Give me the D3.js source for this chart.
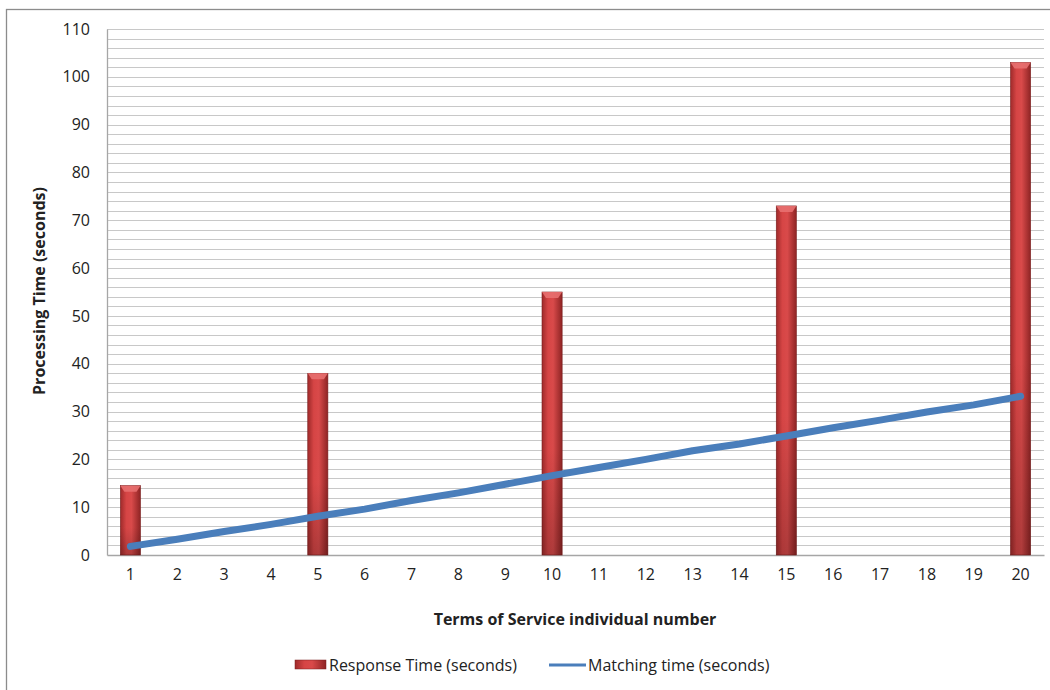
<!DOCTYPE html>
<html lang="en">
<head>
  <meta charset="UTF-8">
  <title>Processing Time</title>
  <style>
    body { margin: 0; background: #fff; }
    svg text { font-family: 'Open Sans', 'Noto Sans', Arial, sans-serif; fill: #222; }
  </style>
</head>
<body>
  <div id="my_dataviz"></div>
<script src="https://d3js.org/d3.v7.min.js"></script>
<script>
  // data
  var categories = d3.range(1, 21).map(String);
  var responseTime = [14.5, 0, 0, 0, 38, 0, 0, 0, 0, 55, 0, 0, 0, 0, 73, 0, 0, 0, 0, 103];
  var matchingTime = [1.8, 3.3, 4.9, 6.4, 8.1, 9.6, 11.4, 13.0, 14.8, 16.6, 18.3, 20.0, 21.8, 23.2, 24.9, 26.6, 28.2, 29.9, 31.4, 33.2];
  var yTicks = d3.range(0, 111, 10);
  var seriesNames = ["Response Time (seconds)", "Matching time (seconds)"];

  var W = 1050, H = 690;
  var margin = {top: 29, right: 6, bottom: 135, left: 107},
      width = W - margin.left - margin.right,
      height = H - margin.top - margin.bottom;

  var root = d3.select("#my_dataviz").append("svg")
    .attr("width", W).attr("height", H);

  // outer chart frame
  root.append("rect")
    .attr("x", 6.5).attr("y", 9.5)
    .attr("width", W + 10).attr("height", H + 10)
    .attr("fill", "none").attr("stroke", "#8c8c8c").attr("stroke-width", 1.3);

  var defs = root.append("defs");
  var grad = defs.append("linearGradient").attr("id", "barGrad")
    .attr("x1", "0%").attr("x2", "100%").attr("y1", "0%").attr("y2", "0%");
  grad.append("stop").attr("offset", "0%").attr("stop-color", "#9e2a2a");
  grad.append("stop").attr("offset", "30%").attr("stop-color", "#d64545");
  grad.append("stop").attr("offset", "55%").attr("stop-color", "#d94a4a");
  grad.append("stop").attr("offset", "100%").attr("stop-color", "#8e2424");
  var shade = defs.append("linearGradient").attr("id", "barShade")
    .attr("x1", "0%").attr("x2", "0%").attr("y1", "0%").attr("y2", "100%");
  shade.append("stop").attr("offset", "0%").attr("stop-color", "#000").attr("stop-opacity", 0);
  shade.append("stop").attr("offset", "60%").attr("stop-color", "#000").attr("stop-opacity", 0);
  shade.append("stop").attr("offset", "100%").attr("stop-color", "#000").attr("stop-opacity", 0.2);

  var svg = root.append("g")
    .attr("transform", "translate(" + margin.left + "," + margin.top + ")");

  var x = d3.scaleBand().domain(categories).range([0, width]).paddingInner(0.57).paddingOuter(0.285);
  var y = d3.scaleLinear().domain([0, 110]).range([height, 0]);

  // minor gridlines every 2
  svg.append("g")
    .selectAll("line")
    .data(d3.range(2, 111, 2))
    .join("line")
    .attr("x1", 0).attr("x2", width)
    .attr("y1", d => Math.round(y(d)) + 0.5).attr("y2", d => Math.round(y(d)) + 0.5)
    .attr("stroke", "#c8c8c8").attr("stroke-width", 1.2);

  // y axis
  var yAxis = svg.append("g")
    .call(d3.axisLeft(y).tickValues(yTicks).tickSize(0).tickPadding(17));
  yAxis.select(".domain").attr("stroke", "#a6a6a6").attr("stroke-width", 1.3);
  yAxis.selectAll("text").style("font-size", "16px");

  // x axis
  var xAxis = svg.append("g")
    .attr("transform", "translate(0," + height + ")")
    .call(d3.axisBottom(x).tickSize(0).tickPadding(14));
  xAxis.select(".domain").attr("stroke", "#a6a6a6").attr("stroke-width", 1.3);
  xAxis.selectAll("text").style("font-size", "16px");

  // bars
  var bars = svg.append("g").selectAll("g")
    .data(responseTime.map((v, i) => ({c: categories[i], v: v})).filter(d => d.v > 0))
    .join("g");
  bars.append("rect")
    .attr("x", d => x(d.c)).attr("width", x.bandwidth())
    .attr("y", d => y(d.v)).attr("height", d => y(0) - y(d.v))
    .attr("fill", "url(#barGrad)").attr("stroke", "#7a1e1e").attr("stroke-width", 0.6);
  bars.append("rect")
    .attr("x", d => x(d.c)).attr("width", x.bandwidth())
    .attr("y", d => y(d.v)).attr("height", d => y(0) - y(d.v))
    .attr("fill", "url(#barShade)");
  // bevelled top
  bars.append("path")
    .attr("d", d => {
      var x0 = x(d.c), x1 = x0 + x.bandwidth(), t = y(d.v);
      return "M" + x0 + "," + t + "L" + x1 + "," + t + "L" + (x1 - 4) + "," + (t + 6) + "L" + (x0 + 4) + "," + (t + 6) + "Z";
    })
    .attr("fill", "#e87070").attr("opacity", 0.9);

  // matching time line
  var line = d3.line()
    .x((d, i) => x(categories[i]) + x.bandwidth() / 2)
    .y(d => y(d));
  svg.append("path")
    .datum(matchingTime)
    .attr("d", line)
    .attr("fill", "none")
    .attr("stroke", "#4a7ebb")
    .attr("stroke-width", 7)
    .attr("stroke-linecap", "round")
    .attr("stroke-linejoin", "round");

  // axis titles
  root.append("text")
    .attr("x", 575).attr("y", 625)
    .attr("text-anchor", "middle")
    .style("font-size", "16px").style("font-weight", "bold")
    .text("Terms of Service individual number");
  root.append("text")
    .attr("transform", "translate(45,291) rotate(-90)")
    .attr("text-anchor", "middle")
    .style("font-size", "16px").style("font-weight", "bold")
    .text("Processing Time (seconds)");

  // legend
  var lg = root.append("g").attr("transform", "translate(295,665)");
  lg.append("rect").attr("x", 0).attr("y", -5).attr("width", 31).attr("height", 9)
    .attr("fill", "url(#barGrad)").attr("stroke", "#7a1e1e").attr("stroke-width", 0.5);
  lg.append("text").attr("x", 34).attr("y", 0).attr("dy", "0.35em")
    .style("font-size", "16px").text(seriesNames[0]);
  lg.append("line").attr("x1", 254).attr("x2", 291).attr("y1", 0).attr("y2", 0)
    .attr("stroke", "#4a7ebb").attr("stroke-width", 3);
  lg.append("text").attr("x", 293).attr("y", 0).attr("dy", "0.35em")
    .style("font-size", "16px").text(seriesNames[1]);
</script>
</body>
</html>
